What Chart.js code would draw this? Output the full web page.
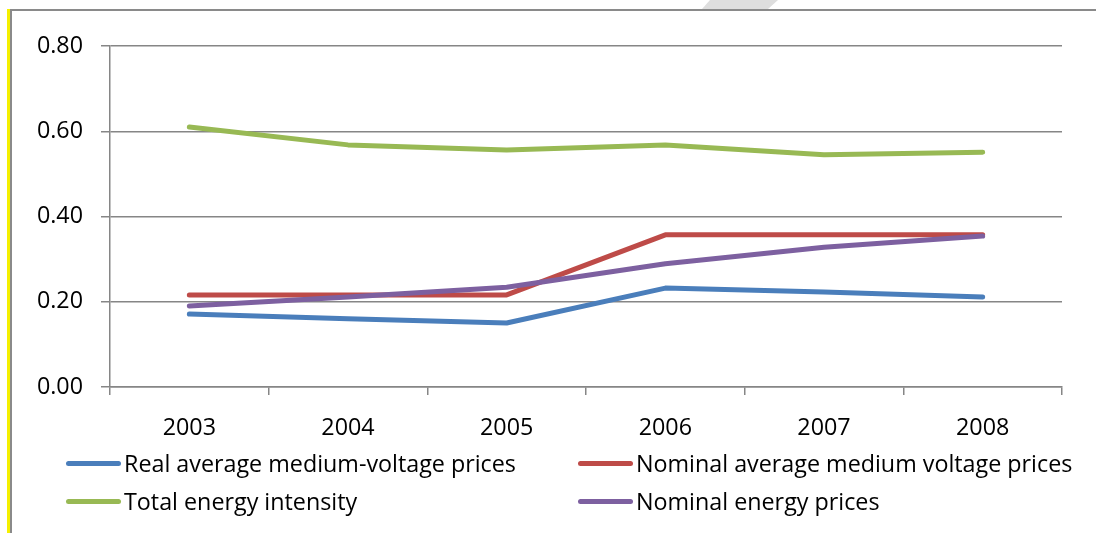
<!DOCTYPE html>
<html>
<head>
<meta charset="utf-8">
<script src="https://cdn.jsdelivr.net/npm/chart.js@4.4.1/dist/chart.umd.min.js"></script>
<style>
  html, body { margin: 0; padding: 0; background: #fff; }
  #wrap { position: relative; width: 1096px; height: 533px; overflow: hidden; font-family: "Open Sans", Lato, sans-serif; }
  #frame { position: absolute; left: 10px; top: 9px; width: 1100px; height: 540px; border-left: 2px solid #8a8a8a; border-top: 2px solid #8a8a8a; box-sizing: border-box; }
  #mark { position: absolute; left: 7px; top: 9px; width: 3px; height: 530px; background: #f5f000; }
  #shade { position: absolute; left: 700px; top: 0; width: 80px; height: 9px; background: #dedede; clip-path: polygon(10px 0, 78px 0, 68px 9px, 2px 9px); }
  #chart { position: absolute; left: 0; top: 0; }
  #legend { position: absolute; left: 0; top: 0; width: 1096px; height: 533px; pointer-events: none; }
  .item { position: absolute; display: flex; align-items: center; font-size: 23.3px; color: #000; white-space: nowrap; }
  .swatch { width: 55px; height: 5px; border-radius: 3px; margin-right: 3px; }
</style>
</head>
<body>
<div id="wrap">
  <div id="frame"></div>
  <div id="mark"></div>
  <div id="shade"></div>
  <canvas id="chart" width="1096" height="533"></canvas>
  <div id="legend"></div>
</div>
<script>
// Years on the horizontal axis
const years = ['2003', '2004', '2005', '2006', '2007', '2008'];

// Series values
const realMediumVoltage = [0.171, 0.160, 0.150, 0.232, 0.223, 0.211];
const nominalMediumVoltage = [0.216, 0.216, 0.216, 0.357, 0.357, 0.357];
const totalEnergyIntensity = [0.610, 0.568, 0.556, 0.568, 0.545, 0.551];
const nominalEnergyPrices = [0.190, 0.211, 0.234, 0.289, 0.328, 0.354];

// Series names
const seriesNames = [
  'Real average medium-voltage prices',
  'Nominal average medium voltage prices',
  'Total energy intensity',
  'Nominal energy prices'
];

// Value axis ticks
const yTicks = [0.00, 0.20, 0.40, 0.60, 0.80];

const colors = ['#4a7ebb', '#be4b48', '#98b954', '#7d60a0'];
const seriesValues = [realMediumVoltage, nominalMediumVoltage, totalEnergyIntensity, nominalEnergyPrices];

const datasets = seriesValues.map((vals, i) => ({
  label: seriesNames[i],
  data: vals,
  borderColor: colors[i],
  backgroundColor: colors[i],
  borderWidth: 5,
  borderCapStyle: 'round',
  borderJoinStyle: 'round',
  pointRadius: 0,
  tension: 0,
  fill: false
}));

// Draw order: green first, then red, purple, blue on top
const order = [2, 1, 3, 0];
order.forEach((idx, k) => { datasets[idx].order = order.length - k; });

const fontFamily = '"Open Sans", Lato, sans-serif';
const fontSize = 23.3;
const axisGrey = '#868686';

const chart = new Chart(document.getElementById('chart'), {
  type: 'line',
  data: { labels: years, datasets: datasets },
  options: {
    responsive: false,
    animation: false,
    devicePixelRatio: 1,
    layout: { padding: { left: 10, top: 46, right: 34, bottom: 86 } },
    plugins: { legend: { display: false }, tooltip: { enabled: false } },
    scales: {
      x: {
        offset: true,
        grid: { offset: true, drawOnChartArea: false, drawTicks: true, tickLength: 8, color: axisGrey, lineWidth: 1.5 },
        border: { display: true, color: axisGrey, width: 1.5 },
        ticks: { color: '#000', font: { family: fontFamily, size: fontSize }, padding: 19, maxRotation: 0 },
        afterFit: (s) => { s.height = 60; }
      },
      y: {
        min: 0,
        max: 0.8,
        afterBuildTicks: (s) => { s.ticks = yTicks.map(v => ({ value: v })); },
        grid: { color: axisGrey, lineWidth: 1.5, drawTicks: true, tickLength: 9 },
        border: { display: true, color: axisGrey, width: 1.5 },
        ticks: { color: '#000', font: { family: fontFamily, size: fontSize }, padding: 18, callback: (v) => Number(v).toFixed(2) },
        afterFit: (s) => { s.width = 100; }
      }
    }
  }
});

// Two-column legend below the plot
const legendPos = [
  { left: 66, top: 463 },
  { left: 578, top: 463 },
  { left: 66, top: 501 },
  { left: 578, top: 501 }
];
const legend = document.getElementById('legend');
chart.data.datasets.forEach((ds, i) => {
  const item = document.createElement('div');
  item.className = 'item';
  item.style.left = legendPos[i].left + 'px';
  item.style.top = (legendPos[i].top - 16) + 'px';
  item.style.height = '32px';
  const sw = document.createElement('span');
  sw.className = 'swatch';
  sw.style.background = ds.borderColor;
  const tx = document.createElement('span');
  tx.textContent = ds.label;
  item.appendChild(sw);
  item.appendChild(tx);
  legend.appendChild(item);
});
</script>
</body>
</html>
